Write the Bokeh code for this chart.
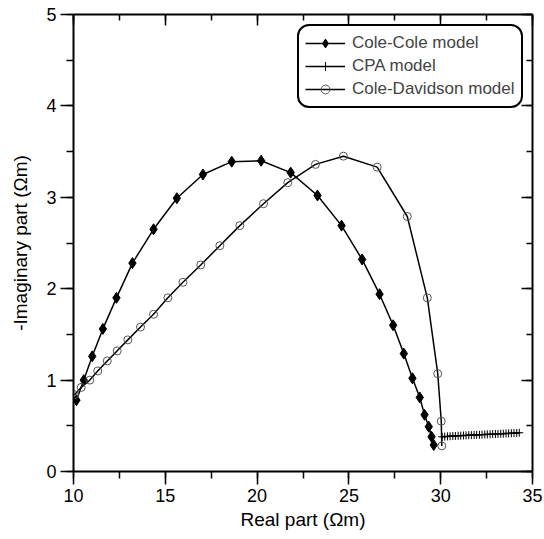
from bokeh.plotting import figure
from bokeh.models import (LinearAxis, SingleIntervalTicker, Range1d, Legend,
                          LegendItem, ColumnDataSource, CustomJSTickFormatter)
from bokeh.embed import file_html
from bokeh.resources import INLINE

# ---------------- data ----------------
cc_real = [10.16, 10.56, 11.02, 11.60, 12.34, 13.21, 14.36, 15.63, 17.05, 18.62,
           20.22, 21.83, 23.29, 24.60, 25.72, 26.67, 27.41, 27.99, 28.46, 28.86,
           29.12, 29.35, 29.50, 29.62]
cc_imag = [0.78, 1.00, 1.26, 1.56, 1.90, 2.28, 2.65, 2.99, 3.25, 3.39,
           3.40, 3.27, 3.02, 2.69, 2.32, 1.94, 1.60, 1.29, 1.02, 0.81,
           0.62, 0.49, 0.38, 0.29]

cd_real = [10.05, 10.42, 10.89, 11.32, 11.84, 12.38, 12.96, 13.65, 14.36, 15.14,
           15.96, 16.93, 17.97, 19.06, 20.35, 21.67, 23.18, 24.70, 26.54, 28.18,
           29.27, 29.84, 30.03, 30.06]
cd_imag = [0.84, 0.92, 1.00, 1.10, 1.21, 1.32, 1.44, 1.58, 1.72, 1.90,
           2.07, 2.26, 2.47, 2.69, 2.93, 3.16, 3.36, 3.45, 3.33, 2.79,
           1.90, 1.07, 0.55, 0.28]

cpa_real = [30.08, 30.22, 30.37, 30.51, 30.66, 30.80, 30.95, 31.09, 31.24, 31.38,
            31.53, 31.67, 31.82, 31.96, 32.11, 32.25, 32.40, 32.54, 32.69, 32.83,
            32.98, 33.12, 33.27, 33.41, 33.56, 33.70, 33.85, 33.99, 34.14, 34.28]
cpa_imag = [0.380, 0.382, 0.384, 0.386, 0.388, 0.389, 0.391, 0.392, 0.394, 0.395,
            0.397, 0.398, 0.399, 0.401, 0.402, 0.403, 0.405, 0.406, 0.407, 0.409,
            0.410, 0.411, 0.413, 0.414, 0.416, 0.417, 0.419, 0.420, 0.422, 0.424]

labels = ["Cole-Cole model", "CPA model", "Cole-Davidson model"]
x_label = "Real part (Ωm)"
y_label = "-Imaginary part (Ωm)"

FONT = "Liberation Sans"

p = figure(width=544, height=539, output_backend="svg", toolbar_location=None,
           x_range=Range1d(10, 35), y_range=Range1d(0, 5),
           min_border_left=73, min_border_right=12, min_border_top=14,
           min_border_bottom=68, x_axis_label=x_label, y_axis_label=y_label)
p.grid.visible = False
p.outline_line_color = None
p.background_fill_color = "white"
p.border_fill_color = "white"

xt = SingleIntervalTicker(interval=5, num_minor_ticks=2)
yt = SingleIntervalTicker(interval=1, num_minor_ticks=2)
p.xaxis.ticker = xt
p.yaxis.ticker = yt

for ax in (p.xaxis[0], p.yaxis[0]):
    ax.axis_line_width = 2
    ax.major_tick_line_width = 1.5
    ax.minor_tick_line_width = 1.5
    ax.major_tick_in = 0
    ax.major_tick_out = 13
    ax.minor_tick_in = 0
    ax.minor_tick_out = 7
    ax.major_label_text_font = FONT
    ax.major_label_text_font_size = "18px"
    ax.major_label_text_color = "black"
    ax.axis_label_text_font = FONT
    ax.axis_label_text_font_size = "19px"
    ax.axis_label_text_font_style = "normal"
    ax.axis_label_text_color = "black"
    ax.major_label_standoff = 4
p.yaxis[0].axis_label_standoff = 12
p.xaxis[0].axis_label_standoff = 4

blank = CustomJSTickFormatter(code="return ''")
for loc, tick in (("right", yt), ("above", xt)):
    ax = LinearAxis(ticker=tick, formatter=blank, axis_line_width=2,
                    major_tick_line_width=1.5, minor_tick_line_width=1.5,
                    major_tick_in=11, major_tick_out=0,
                    minor_tick_in=6, minor_tick_out=0,
                    major_label_standoff=0)
    p.add_layout(ax, loc)

# ---------------- series ----------------
cc_src = ColumnDataSource(dict(x=cc_real, y=cc_imag))
cd_src = ColumnDataSource(dict(x=cd_real, y=cd_imag))
cpa_src = ColumnDataSource(dict(x=cpa_real, y=cpa_imag))

cc_line = p.line("x", "y", source=cc_src, line_color="black", line_width=1.5)
cc_pts = p.scatter("x", "y", source=cc_src, marker="diamond", size=11,
                   fill_color="black", line_color="black")

cpa_line = p.line("x", "y", source=cpa_src, line_color="black", line_width=1.6)
cpa_pts = p.scatter("x", "y", source=cpa_src, marker="cross", size=8,
                    line_color="black", line_width=1)

cd_line = p.line("x", "y", source=cd_src, line_color="black", line_width=1.5)
cd_pts = p.scatter("x", "y", source=cd_src, marker="circle", size=8,
                   fill_color=None, line_color="#555555", line_width=1)

legend = Legend(items=[
    LegendItem(label=labels[0], renderers=[cc_line, cc_pts]),
    LegendItem(label=labels[1], renderers=[cpa_line, cpa_pts]),
    LegendItem(label=labels[2], renderers=[cd_line, cd_pts]),
], location=(224, 363), margin=0, padding=6, spacing=1,
    glyph_width=40, glyph_height=22, label_height=22, label_standoff=7,
    label_text_font=FONT, label_text_font_size="17px",
    border_line_color="black", border_line_width=2, border_line_alpha=1.0,
    background_fill_color="white", background_fill_alpha=1.0)
try:
    legend.border_radius = 12
except Exception:
    pass
p.add_layout(legend)

open("out.html", "w").write(file_html(p, INLINE))
